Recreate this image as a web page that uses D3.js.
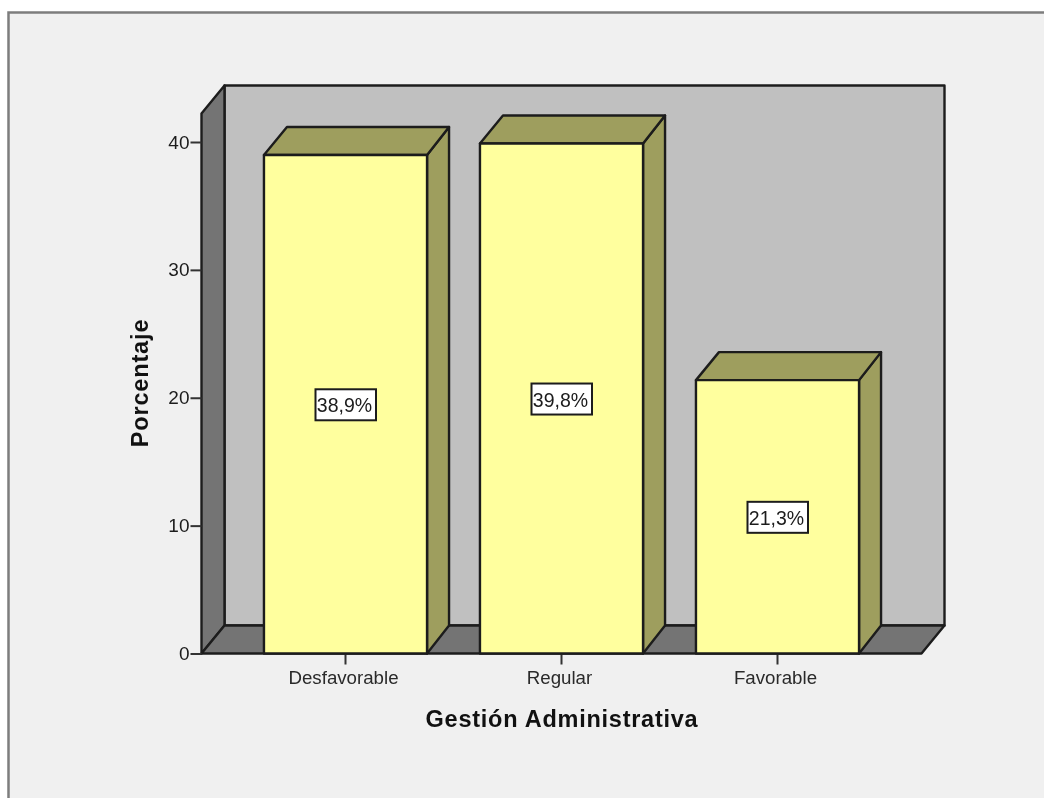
<!DOCTYPE html>
<html><head><meta charset="utf-8">
<script src="https://cdnjs.cloudflare.com/ajax/libs/d3/7.8.5/d3.min.js"></script>
<style>html,body{margin:0;padding:0;background:#fff;overflow:hidden}svg{display:block;filter:blur(0.4px)}</style>
</head><body><svg id="c" width="1044" height="798"></svg>
<script>
const categories = ["Desfavorable","Regular","Favorable"];
const percentages = [38.9,39.8,21.3];
const barLabels = ["38,9%","39,8%","21,3%"];
const yTicks = [0,10,20,30,40];
const yTitle = "Porcentaje", xTitle = "Gestión Administrativa";

const dx = 23, dy = 28;
const svg = d3.select("#c");
const font = "Arial, 'Liberation Sans', sans-serif";
const ink = "#1c1c1c";

svg.append("rect").attr("x",8.5).attr("y",12.5).attr("width",1060).attr("height",810)
  .attr("fill","#f0f0f0").attr("stroke","#7d7d7d").attr("stroke-width",2.5);

const y = d3.scaleLinear().domain([0,40]).range([653.5,142]);
const x = d3.scaleBand().domain(categories).range([237.5,885.5]).paddingInner(0.245).paddingOuter(0.1225);
const left = 201.5, right = 921.5, yTop = 113.5, yBase = y(0);

function poly(pts, fill){
  svg.append("polygon").attr("points",pts.map(p=>p.join(",")).join(" "))
    .attr("fill",fill).attr("stroke",ink).attr("stroke-width",2.4).attr("stroke-linejoin","round");
}
// walls
poly([[left+dx,yTop-dy],[right+dx,yTop-dy],[right+dx,yBase-dy],[left+dx,yBase-dy]],"#c0c0c0");
poly([[left,yTop],[left+dx,yTop-dy],[left+dx,yBase-dy],[left,yBase]],"#747474");
poly([[left,yBase],[left+dx,yBase-dy],[right+dx,yBase-dy],[right,yBase]],"#747474");

// y axis
const gy = svg.append("g").attr("transform",`translate(${left},0)`)
  .call(d3.axisLeft(y).tickValues(yTicks).tickSize(11).tickPadding(1).tickFormat(d3.format("d")));
gy.select(".domain").remove();
gy.selectAll("line").attr("stroke","#333").attr("stroke-width",2);
gy.selectAll("text").attr("font-family",font).attr("font-size",19).attr("fill",ink);

// x axis
const gx = svg.append("g").attr("transform",`translate(0,${yBase})`)
  .call(d3.axisBottom(x).tickSize(11).tickPadding(6));
gx.select(".domain").remove();
gx.selectAll("line").attr("stroke","#333").attr("stroke-width",2);
gx.selectAll("text").attr("font-family",font).attr("font-size",18.7).attr("fill","#2a2a2a").attr("dx",-2);

// bars
categories.forEach((c,i)=>{
  const x0=x(c), x1=x0+x.bandwidth(), t=y(percentages[i])-1, sx=dx-1;
  poly([[x1,t],[x1+sx,t-dy],[x1+sx,yBase-dy],[x1,yBase]],"#9e9e5e");
  poly([[x0,t],[x0+dx,t-dy],[x1+sx,t-dy],[x1,t]],"#9e9e5e");
  poly([[x0,t],[x1,t],[x1,yBase],[x0,yBase]],"#ffff9e");
  const cx=(x0+x1)/2, cy=(t+yBase)/2;
  svg.append("rect").attr("x",cx-30).attr("y",cy-15).attr("width",60.5).attr("height",31)
    .attr("fill","#fff").attr("stroke",ink).attr("stroke-width",2);
  svg.append("text").attr("x",cx-1).attr("y",cy+8).attr("text-anchor","middle")
    .attr("font-family",font).attr("font-size",19.5).attr("fill",ink).text(barLabels[i]);
});

svg.append("text").attr("transform","translate(148,383) rotate(-90)").attr("text-anchor","middle")
  .attr("font-family",font).attr("font-size",23.5).attr("font-weight","bold").attr("letter-spacing",0.85).attr("fill","#111").text(yTitle);
svg.append("text").attr("x",562).attr("y",727).attr("text-anchor","middle")
  .attr("font-family",font).attr("font-size",23.5).attr("font-weight","bold").attr("letter-spacing",0.75).attr("fill","#111").text(xTitle);
</script></body></html>
